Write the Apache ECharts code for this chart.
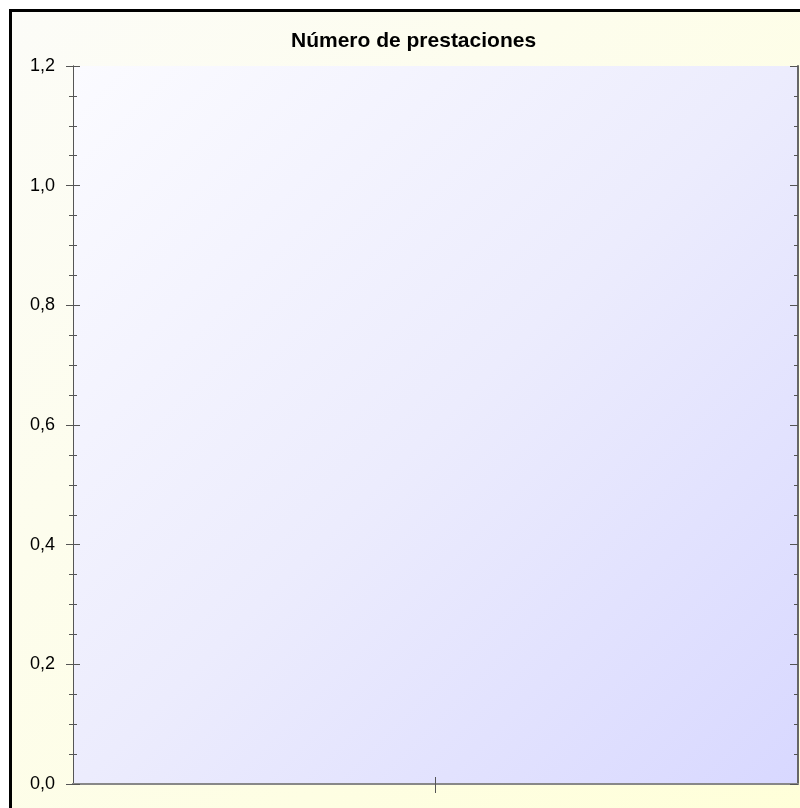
<!DOCTYPE html>
<html>
<head>
<meta charset="utf-8">
<script src="https://cdn.jsdelivr.net/npm/echarts@6/dist/echarts.min.js"></script>
<style>
html,body{margin:0;padding:0;background:#fff;}
#chart{width:800px;height:808px;}
</style>
</head>
<body>
<div id="chart"></div>
<script>
var chartTitle = 'Número de prestaciones';
var categories = [''];
var seriesValues = [null];
var yMin = 0;
var yMax = 1.2;
var yInterval = 0.2;
var yTickLabels = ['0,0', '0,2', '0,4', '0,6', '0,8', '1,0', '1,2'];

var chart = echarts.init(document.getElementById('chart'), null, {renderer: 'canvas'});
var font = '"Liberation Sans", Arial, sans-serif';

function yAxisCfg(opts) {
  var base = {
    type: 'value',
    min: yMin,
    max: yMax,
    interval: yInterval,
    splitLine: {show: false},
    axisLine: {show: true, lineStyle: {color: '#555', width: 1}},
    axisTick: {show: true, length: 7, lineStyle: {color: '#555', width: 1}},
    minorTick: {show: true, splitNumber: 4, length: 4, lineStyle: {color: '#555', width: 1}},
    axisLabel: {show: false}
  };
  return Object.assign(base, opts);
}

function xAxisCfg(opts) {
  var base = {
    type: 'category',
    data: categories,
    boundaryGap: true,
    axisLine: {show: true, lineStyle: {color: '#888', width: 2}},
    axisTick: {show: true, alignWithLabel: true, length: 8, lineStyle: {color: '#555', width: 1}},
    axisLabel: {show: false},
    splitLine: {show: false}
  };
  return Object.assign(base, opts);
}

var option = {
  backgroundColor: '#ffffff',
  animation: false,
  graphic: [{
    type: 'rect',
    z: -10,
    silent: true,
    shape: {x: 10.5, y: 10.5, width: 820, height: 820},
    style: {
      fill: new echarts.graphic.LinearGradient(0, 0, 1, 1, [
        {offset: 0, color: '#fcfcf8'},
        {offset: 1, color: '#ffffd8'}
      ]),
      stroke: '#000',
      lineWidth: 3
    }
  }],
  title: {
    text: chartTitle,
    left: 286,
    top: 26,
    textStyle: {fontFamily: font, fontSize: 21, fontWeight: 'bold', color: '#000'}
  },
  grid: {
    left: 73,
    top: 66,
    right: 2,
    bottom: 24,
    containLabel: false,
    show: true,
    borderWidth: 0,
    backgroundColor: new echarts.graphic.LinearGradient(0, 0, 1, 1, [
      {offset: 0, color: '#fbfbff'},
      {offset: 0.5, color: '#ececfd'},
      {offset: 1, color: '#d8d8ff'}
    ])
  },
  xAxis: [
    xAxisCfg({position: 'bottom', axisTick: {show: true, alignWithLabel: true, length: 9, inside: false, lineStyle: {color: '#555'}}}),
    xAxisCfg({position: 'bottom', axisTick: {show: true, alignWithLabel: true, length: 7, inside: true, lineStyle: {color: '#555'}}}),
    xAxisCfg({position: 'top', axisTick: {show: true, alignWithLabel: true, length: 6, inside: true, lineStyle: {color: '#555'}}})
  ],
  yAxis: [
    yAxisCfg({
      position: 'left',
      axisTick: {show: true, length: 7, inside: false, lineStyle: {color: '#555'}},
      axisLabel: {
        show: true,
        margin: 18,
        fontFamily: font,
        fontSize: 18,
        color: '#000',
        formatter: function (v, i) { return yTickLabels[i]; }
      }
    }),
    yAxisCfg({
      position: 'left',
      axisTick: {show: true, length: 7, inside: true, lineStyle: {color: '#555'}}
    }),
    yAxisCfg({
      position: 'right',
      axisLine: {show: true, lineStyle: {color: '#666', width: 2}},
      axisTick: {show: true, length: 8, inside: true, lineStyle: {color: '#555'}}
    })
  ],
  series: [{
    type: 'line',
    xAxisIndex: 0,
    yAxisIndex: 0,
    data: seriesValues,
    symbol: 'none',
    silent: true
  }]
};

chart.setOption(option);
</script>
</body>
</html>
